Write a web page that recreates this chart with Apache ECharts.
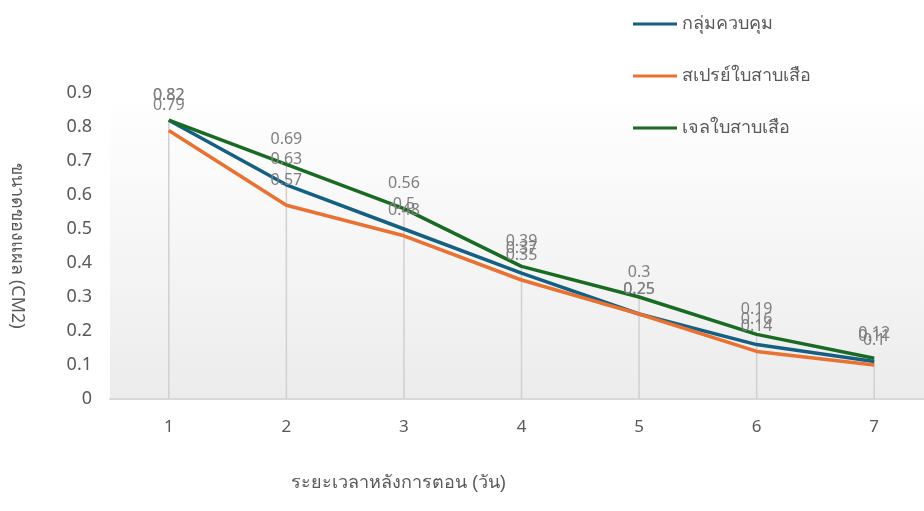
<!DOCTYPE html>
<html>
<head>
<meta charset="utf-8">
<script src="https://cdn.jsdelivr.net/npm/echarts@6/dist/echarts.min.js"></script>
<style>html,body{margin:0;padding:0;background:#fff;}#c{width:924px;height:511px;}</style>
</head>
<body>
<div id="c"></div>
<script>
var days = ['1', '2', '3', '4', '5', '6', '7'];
var seriesNames = ['กลุ่มควบคุม', 'สเปรย์ใบสาบเสือ', 'เจลใบสาบเสือ'];
var control = [0.82, 0.63, 0.5, 0.37, 0.25, 0.16, 0.11];
var spray = [0.79, 0.57, 0.48, 0.35, 0.25, 0.14, 0.1];
var gel = [0.82, 0.69, 0.56, 0.39, 0.3, 0.19, 0.12];
var yTicks = [0, 0.1, 0.2, 0.3, 0.4, 0.5, 0.6, 0.7, 0.8, 0.9];
var xTitle = 'ระยะเวลาหลังการตอน (วัน)';
var yTitle = 'ขนาดของแผล (CM2)';

var colors = ['#156082', '#E97132', '#196B24'];
var font = '"Noto Sans", "Liberation Sans", sans-serif';
var dropTop = days.map(function (d, i) { return Math.max(control[i], spray[i], gel[i]); });

function lineSeries(name, data, color) {
  return {
    name: name, type: 'line', data: data,
    symbol: 'circle', symbolSize: 0, showSymbol: true,
    lineStyle: { color: color, width: 3.5 },
    itemStyle: { color: color },
    label: { show: true, position: 'top', distance: 17, color: '#7f7f7f', fontSize: 16, fontFamily: font },
    z: 3
  };
}

var chart = echarts.init(document.getElementById('c'));
chart.setOption({
  animation: false,
  backgroundColor: '#ffffff',
  grid: {
    left: 110, right: -9, top: 93, bottom: 112, show: true, borderWidth: 0,
    outerBoundsMode: 'none', containLabel: false,
    backgroundColor: { type: 'linear', x: 0, y: 0, x2: 0, y2: 1,
      colorStops: [{ offset: 0, color: '#ffffff' }, { offset: 1, color: '#ececec' }] }
  },
  legend: {
    data: seriesNames, orient: 'vertical', left: 628, top: 10,
    itemWidth: 44, itemHeight: 3, icon: 'rect', itemGap: 34,
    textStyle: { color: '#595959', fontSize: 18, fontFamily: font }
  },
  xAxis: {
    type: 'category', data: days, boundaryGap: true,
    axisLine: { show: true, lineStyle: { color: '#d9d9d9', width: 2 } },
    axisTick: { show: false },
    axisLabel: { color: '#595959', fontSize: 17, margin: 20, fontFamily: font },
    splitLine: { show: false }
  },
  yAxis: {
    type: 'value', min: 0, max: 0.9, interval: 0.1,
    axisLine: { show: false }, axisTick: { show: false },
    splitLine: { show: false },
    axisLabel: { color: '#595959', fontSize: 18, margin: 18, fontFamily: font,
      formatter: function (v) { var r = Math.round(v * 10) / 10; return yTicks.indexOf(r) >= 0 ? String(r) : ''; } },
    name: yTitle, nameLocation: 'middle', nameRotate: -90, nameGap: 84,
    nameTextStyle: { color: '#595959', fontSize: 18, fontFamily: font }
  },
  graphic: [{
    type: 'text', left: 291, top: 474,
    style: { text: xTitle, fill: '#595959', fontSize: 18, font: '18px ' + font }
  }],
  series: [
    { type: 'bar', data: dropTop, barWidth: 1.5, itemStyle: { color: '#d0d0d0' }, z: 1, silent: true, label: { show: false } },
    lineSeries(seriesNames[0], control, colors[0]),
    lineSeries(seriesNames[1], spray, colors[1]),
    lineSeries(seriesNames[2], gel, colors[2])
  ]
});
</script>
</body>
</html>
